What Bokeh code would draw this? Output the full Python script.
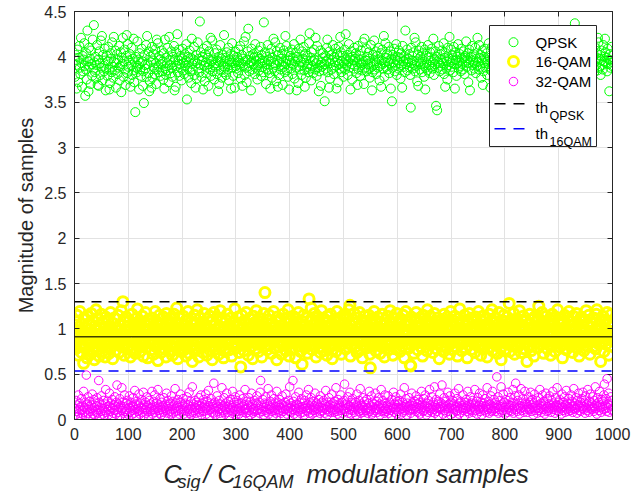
from bokeh.plotting import figure
from bokeh.layouts import column
from bokeh.models import (Range1d, FixedTicker, CustomJSTickFormatter, LinearAxis,
                          Span, ColumnDataSource)
from bokeh.core.properties import value
from bokeh.embed import file_html
from bokeh.resources import INLINE

# ---------------- data ----------------
qpsk = [
3.78,4.02,3.91,3.65,4.08,3.96,3.72,3.99,4.12,3.88,3.81,4.21,3.93,3.67,4.01,3.84,3.97,4.15,3.90,3.57,
3.86,4.04,3.75,4.29,3.95,3.62,4.10,3.89,3.98,3.70,4.07,3.92,3.79,4.19,3.87,4.35,3.94,3.83,4.00,3.76,
3.91,4.13,3.69,3.97,3.68,4.06,3.93,3.80,4.18,3.88,4.23,3.74,4.02,3.90,3.84,4.09,3.96,3.63,3.87,4.01,
3.79,3.95,4.11,3.86,3.64,3.71,4.04,3.98,3.83,4.16,3.89,3.77,4.22,3.94,3.85,4.07,3.66,3.93,4.03,3.81,
3.97,3.88,4.12,3.74,3.90,4.05,3.61,3.99,3.92,4.21,3.78,3.95,4.08,3.86,3.69,4.01,4.24,3.82,4.14,3.89,
3.96,3.75,4.03,3.67,3.91,4.10,3.80,3.98,3.85,4.20,3.72,3.94,3.39,4.00,3.88,3.83,4.17,3.90,3.97,3.64,
4.04,3.86,3.93,3.79,4.09,3.95,3.68,3.84,3.49,4.02,3.91,3.87,4.13,3.78,4.23,3.92,3.82,4.06,3.62,3.73,
4.00,3.94,3.66,4.11,3.77,3.96,4.03,3.88,3.81,4.08,3.93,3.70,4.19,3.86,4.15,3.90,3.83,4.01,3.97,3.79,
3.92,4.07,3.84,3.95,3.75,4.04,3.65,4.19,3.87,3.80,3.99,3.93,4.10,3.85,3.72,4.22,3.91,3.96,3.82,4.06,
3.88,3.78,4.00,3.94,4.12,3.63,3.97,3.67,4.05,3.90,4.25,3.83,3.96,4.08,3.79,3.92,4.01,3.87,3.74,3.98,
4.09,3.85,3.93,3.81,4.03,3.90,3.96,4.14,3.53,3.88,4.00,3.77,3.94,4.07,3.84,3.99,3.71,4.20,3.92,3.86,
3.97,4.11,3.80,3.95,3.66,4.02,3.76,3.93,4.16,3.87,3.98,3.83,4.39,3.91,4.05,3.78,3.96,4.00,3.64,4.09,
3.90,3.73,4.03,3.94,3.82,4.12,3.88,3.99,3.68,4.06,3.92,3.86,4.21,3.79,3.95,4.18,3.84,3.97,3.91,3.75,
4.04,3.89,3.93,4.08,3.81,3.96,3.62,4.00,3.70,3.94,4.13,3.85,3.98,3.77,4.02,3.90,3.83,4.24,3.95,3.88,
3.99,3.80,4.05,3.92,3.86,4.10,3.74,3.97,3.91,4.03,3.65,3.95,4.15,3.88,3.79,4.01,3.93,3.66,4.06,3.90,
3.87,4.00,3.94,3.82,4.08,3.96,3.89,4.12,3.76,3.93,4.02,3.68,3.98,3.91,4.17,3.80,3.95,4.22,3.88,3.72,
3.97,4.06,4.31,3.90,3.84,4.01,3.93,3.63,4.09,3.95,3.86,4.03,3.92,3.99,3.81,4.14,3.88,3.96,4.00,3.75,
3.91,4.07,3.85,3.98,3.93,4.11,3.79,4.02,3.89,3.96,3.83,4.38,3.94,4.05,3.87,3.70,4.00,3.92,4.13,3.86,
3.97,3.82,4.04,3.65,3.95,4.09,3.77,3.99,3.88,4.20,3.93,3.84,4.16,3.91,3.73,4.06,3.96,3.67,4.02,3.80,
3.94,4.10,3.86,3.98,3.91,4.03,3.69,3.95,4.07,3.89,3.83,4.23,3.92,4.12,3.85,3.97,3.78,4.05,3.64,3.96,
4.01,3.87,3.93,4.08,3.81,3.99,3.92,4.14,3.76,3.95,4.04,3.88,3.63,4.00,3.97,3.71,4.09,3.90,3.86,4.19,
3.94,3.80,4.06,3.91,3.98,4.11,3.85,3.67,4.03,3.77,3.96,3.89,4.01,3.92,3.83,4.15,4.26,3.87,3.99,3.74,
4.05,3.90,3.95,3.82,4.08,3.97,3.86,4.21,3.93,3.79,4.12,3.88,3.96,3.62,3.84,3.91,4.07,3.68,3.94,3.89,
3.99,4.04,3.85,3.92,3.51,4.01,3.87,3.95,4.10,4.19,3.83,3.98,3.66,4.06,3.76,3.93,4.02,3.86,3.97,4.13,
3.88,3.81,4.00,3.94,4.09,3.90,3.65,4.03,3.96,3.72,4.11,3.92,3.87,4.22,4.05,3.83,3.95,4.01,3.89,3.78,
3.93,4.08,3.86,4.25,3.97,3.91,4.02,3.80,3.95,4.14,3.88,3.99,3.64,4.06,3.92,3.75,4.00,3.96,3.87,4.10,
3.90,3.98,4.04,3.82,3.94,3.69,4.12,3.86,3.97,4.01,3.79,3.93,4.07,3.91,3.85,4.16,3.95,3.70,4.20,3.88,
3.96,4.09,3.84,4.00,3.92,3.87,4.05,3.98,3.77,3.94,4.13,3.89,3.63,3.83,4.02,3.91,4.18,3.86,3.95,4.06,
3.81,3.93,4.01,3.88,4.10,3.97,3.74,3.90,4.04,3.67,3.96,4.08,3.92,3.87,4.23,3.78,3.94,4.15,3.89,3.99,
4.03,3.86,3.95,4.11,3.82,3.93,4.06,3.65,3.98,3.51,3.88,4.02,3.94,4.09,3.84,3.97,3.91,4.14,3.80,3.96,
4.00,3.87,4.07,3.93,3.99,3.76,4.04,3.91,3.66,4.12,3.95,3.89,4.01,3.83,4.29,3.97,3.92,4.08,3.85,3.94,
3.98,4.03,3.88,3.80,3.44,4.10,3.93,3.96,3.87,4.05,3.91,4.21,3.84,4.16,3.90,3.95,3.73,4.02,3.68,4.07,
3.94,3.86,4.00,3.92,4.11,3.83,3.97,4.04,3.90,3.78,4.08,3.64,3.88,4.01,3.93,3.85,4.13,3.99,3.91,3.82,
4.05,3.96,3.89,4.09,3.87,3.94,4.20,3.80,3.98,3.92,4.06,3.46,4.00,3.41,3.95,3.88,4.12,3.93,3.84,4.03,
3.90,3.97,4.07,3.86,3.93,4.15,3.81,3.99,3.67,4.04,3.87,3.95,3.75,4.10,3.91,3.98,4.22,3.85,3.94,4.08,
3.89,4.02,3.96,3.83,4.11,3.92,3.65,4.05,3.97,3.79,4.00,3.93,4.14,3.87,3.95,4.03,3.90,3.84,4.09,3.98,
3.92,3.86,4.06,3.99,3.81,4.01,3.94,4.17,3.89,3.96,4.04,3.72,3.93,4.08,3.63,3.97,4.00,3.85,4.12,3.91,
3.95,4.03,3.87,3.93,4.10,3.82,3.98,3.90,4.21,3.94,3.86,4.13,3.99,3.89,4.02,3.77,3.96,4.07,3.69,3.84,
4.00,3.93,4.09,3.88,3.97,4.04,3.80,3.95,3.92,4.15,3.87,3.99,3.66,3.85,3.94,4.11,3.90,3.96,3.74,4.06,
3.91,3.98,3.86,4.03,3.94,4.08,3.89,3.97,4.00,3.83,4.12,3.92,3.95,4.05,3.88,3.78,4.23,3.93,4.10,3.64,
3.96,4.04,3.90,3.85,4.07,3.99,3.93,4.14,3.88,3.95,4.01,3.81,3.97,4.09,3.92,3.86,4.03,3.67,4.18,3.89,
3.98,3.84,4.06,3.91,3.96,4.00,3.87,4.11,3.93,3.79,4.04,3.95,3.90,4.08,3.65,3.99,4.02,3.92,3.76,4.13,
3.94,3.88,4.01,3.97,4.09,3.85,3.92,4.05,3.96,3.90,4.16,3.83,3.99,4.03,3.87,3.93,4.10,3.62,3.98,4.00,
3.86,4.07,3.94,3.91,4.02,3.80,3.97,4.12,3.88,3.95,4.04,3.92,3.84,4.09,3.99,3.90,4.24,3.73,3.96,4.06,
3.93,3.87,4.11,3.98,3.92,4.03,3.68,4.00,3.95,4.14,3.89,3.96,4.07,3.82,3.94,4.01,3.90,4.19,3.97,3.86,
4.05,3.91,3.99,3.84,4.08,3.93,3.88,4.02,3.96,3.79,4.10,3.66,4.00,3.87,4.04,3.95,3.90,4.13,3.83,3.98,
3.94,4.06,3.89,4.01,3.97,3.85,4.09,3.92,3.99,4.37,3.86,4.03,3.93,3.96,4.11,3.66,3.98,4.04,3.90,3.95,
4.02,3.88,3.94,4.15,3.91,3.99,3.64,4.07,3.96,3.92,4.00,3.77,4.05,3.93,3.89,4.12,3.97,3.86,4.03,3.91,
3.95,4.08,3.87,3.99,4.01,3.83,3.94,4.10,3.90,3.97,4.04,3.85,4.21,4.16,3.88,3.98,4.02,3.80,3.96,4.07,
3.91,3.86,4.13,3.95,4.00,4.20,4.05,3.93,3.99,3.84,4.09,3.92,3.97,3.62,4.03,3.88,3.96,4.11,3.90,3.94,
]

qam16 = [
0.95,0.78,1.08,0.86,1.15,0.92,0.71,1.02,0.88,1.19,0.81,0.97,0.74,1.05,0.90,0.83,0.62,1.12,0.94,0.79,
1.01,0.87,0.68,1.14,0.93,0.76,1.06,0.89,0.99,0.72,1.17,0.84,0.96,1.09,0.80,0.91,0.66,1.03,0.87,1.21,
0.77,0.98,0.85,1.11,0.93,0.70,1.04,0.82,0.95,1.16,0.89,0.75,1.07,0.92,0.84,1.00,0.69,1.13,0.88,0.96,
0.81,1.10,0.94,0.73,1.02,0.87,1.18,0.79,0.97,0.90,0.67,1.06,0.85,1.12,0.93,0.76,1.01,0.89,0.98,0.83,
1.15,0.91,0.74,1.04,0.86,0.99,1.20,0.80,0.95,1.30,0.88,0.71,1.08,0.93,0.84,1.13,0.97,0.78,1.03,0.90,
0.82,1.09,0.94,0.69,1.00,0.87,1.16,0.92,0.76,1.05,0.89,0.98,0.73,1.11,0.85,0.96,1.22,0.81,0.93,1.02,
0.88,0.75,1.07,0.95,0.83,1.14,0.90,0.70,1.01,0.86,0.97,1.18,0.79,1.04,0.92,0.68,1.10,0.87,0.99,0.84,
1.06,0.93,0.77,1.12,0.89,0.96,0.72,1.03,0.85,1.19,0.91,0.80,1.08,0.94,0.65,1.00,0.88,1.15,0.83,0.97,
0.74,1.05,0.90,0.86,1.13,0.95,0.78,1.01,0.92,0.69,1.17,0.84,0.98,1.09,0.87,0.76,1.04,0.93,0.81,1.11,
0.96,0.71,1.02,0.89,1.16,0.85,0.94,1.07,0.79,1.23,0.90,0.67,1.00,0.88,1.12,0.82,0.97,0.75,1.06,0.91,
0.86,1.14,0.93,0.77,1.03,0.98,0.70,1.10,0.84,0.95,1.19,0.88,0.73,1.01,0.92,0.80,1.08,0.96,0.64,1.05,
0.90,0.83,1.15,0.97,0.76,1.06,0.89,1.21,0.85,0.94,0.69,1.02,0.91,1.12,0.79,0.99,0.87,1.07,0.74,0.93,
1.17,0.82,0.96,1.04,0.88,0.71,1.11,0.92,0.84,1.00,0.77,1.14,0.95,0.86,1.08,0.66,0.98,0.90,1.18,0.81,
0.94,1.05,0.78,0.91,1.13,0.87,0.99,0.72,1.03,0.85,1.20,0.93,0.80,1.09,0.89,0.97,0.68,1.01,0.92,0.75,
1.10,0.86,0.95,1.16,0.83,0.90,1.04,0.77,0.98,0.88,1.12,0.70,1.00,0.94,0.81,1.07,0.91,1.22,0.85,0.96,
0.79,1.02,0.89,1.13,0.93,0.74,1.06,0.87,0.58,0.99,1.15,0.82,0.95,1.01,0.76,1.09,0.90,0.84,1.18,0.92,
0.88,0.97,0.71,1.05,0.86,1.11,0.94,0.80,1.03,0.91,0.67,1.14,0.85,0.98,1.07,0.78,0.93,1.20,0.89,0.83,
1.00,0.75,1.12,0.92,0.87,1.04,0.96,0.69,1.08,0.84,0.99,1.17,0.90,1.40,0.81,1.02,0.94,0.77,1.10,0.88,
0.95,1.15,0.82,0.91,1.06,0.73,0.98,1.01,0.86,1.19,0.92,0.79,1.04,0.89,0.97,0.66,1.13,0.85,0.93,1.08,
0.80,0.96,1.10,0.87,0.72,1.03,0.94,1.16,0.83,0.99,0.90,1.07,0.76,1.12,0.88,0.95,1.21,0.84,0.70,1.01,
0.92,1.09,0.86,0.98,0.78,1.14,0.93,0.85,1.05,0.97,0.68,1.11,0.89,1.02,0.81,1.18,0.94,0.87,1.06,0.75,
0.99,0.90,0.61,1.08,0.84,1.15,0.95,0.79,1.03,0.88,1.12,0.93,0.73,1.00,0.86,1.33,0.97,0.82,1.10,1.23,
0.91,0.77,1.04,0.96,0.87,1.17,0.83,0.94,0.69,1.09,0.99,0.88,1.13,0.80,0.92,1.05,0.74,0.97,1.20,0.85,
1.02,0.89,0.76,1.11,0.93,0.84,1.07,0.98,0.71,1.14,0.90,0.86,1.01,0.79,0.95,1.16,0.88,1.04,0.67,0.94,
0.83,1.10,0.97,0.88,1.03,0.75,0.92,1.19,0.85,0.99,1.08,0.81,0.94,1.12,0.87,0.72,1.05,0.96,0.90,1.15,
0.86,0.98,1.07,0.78,0.93,1.13,0.89,1.01,0.84,1.21,0.96,1.26,0.70,1.04,0.91,0.82,1.10,0.95,0.88,1.17,
0.93,0.80,1.06,0.97,0.74,1.12,0.89,1.00,0.85,1.18,0.92,0.77,1.03,0.96,0.68,1.09,0.87,0.99,1.14,0.83,
0.95,1.08,0.79,0.91,1.02,0.86,1.15,0.94,0.72,0.57,0.88,1.11,0.97,0.81,1.05,0.93,1.19,0.84,0.99,0.76,
1.09,0.90,0.83,1.13,0.96,0.87,1.01,0.73,1.06,0.92,0.80,1.16,0.89,0.98,1.04,0.69,0.94,1.10,0.85,1.00,
0.82,1.14,0.93,0.77,1.03,0.88,1.20,0.96,0.84,1.07,0.91,0.71,1.12,0.99,0.86,1.01,0.78,0.94,1.17,0.89,
0.97,0.85,1.08,0.92,0.75,1.11,0.90,1.02,0.81,0.96,1.15,0.87,0.68,1.05,0.93,1.19,0.83,0.99,1.09,0.88,
0.94,0.79,1.04,0.60,0.59,1.13,0.91,0.86,1.00,0.97,0.73,1.10,0.84,0.95,1.18,0.89,1.02,0.77,0.93,1.07,
0.85,1.12,0.98,0.80,1.05,0.92,0.70,1.15,0.88,0.96,1.01,0.83,1.09,0.94,0.76,1.21,0.90,0.87,1.03,0.97,
1.14,0.82,0.93,1.06,0.89,0.74,1.00,0.95,1.17,0.86,0.91,1.08,0.78,0.99,1.12,0.84,0.96,0.67,1.04,0.92,
0.88,1.10,0.81,0.97,1.02,0.75,1.16,0.90,0.85,1.07,0.94,0.79,1.13,0.98,0.87,1.01,0.72,0.93,1.19,0.84,
1.03,0.91,0.77,1.09,0.95,0.86,1.14,0.80,0.99,0.92,1.06,0.70,1.11,0.88,0.96,1.22,0.83,1.00,0.89,0.76,
0.94,1.07,0.85,0.98,1.15,0.79,0.92,1.03,0.87,0.68,1.10,0.95,0.82,1.17,0.90,1.01,0.77,0.96,1.12,0.86,
1.00,0.89,1.08,0.74,0.97,1.13,0.84,0.93,1.05,0.81,1.19,0.91,0.88,1.02,0.71,1.09,0.95,0.83,1.14,0.90,
0.78,1.04,0.96,0.87,1.11,0.92,0.69,1.06,0.85,0.99,1.16,0.80,0.94,1.01,0.88,1.21,0.76,0.97,1.07,0.84,
0.93,1.12,0.82,1.00,0.90,0.73,1.05,0.95,1.18,0.86,0.98,0.79,0.66,1.09,0.91,1.03,0.85,1.15,0.94,0.77,
1.08,0.89,0.97,1.13,0.83,1.02,0.92,1.28,0.75,1.06,0.96,0.87,1.10,0.81,0.99,1.17,0.90,0.72,1.04,0.94,
0.86,1.11,0.95,0.80,1.07,0.91,1.20,0.84,0.98,0.74,1.03,0.93,0.88,1.14,0.97,0.78,1.01,0.90,1.09,0.85,
0.64,0.96,1.05,0.89,0.82,1.16,0.94,0.99,0.76,1.10,0.87,1.02,0.92,0.70,1.13,0.95,0.84,1.08,0.91,1.00,
0.79,1.12,1.25,0.88,0.97,1.04,0.83,0.93,1.18,0.86,0.99,0.73,1.07,0.90,1.01,0.85,1.14,0.95,0.78,1.06,
0.92,0.87,1.10,0.98,0.71,1.03,0.94,1.16,0.82,0.96,1.09,0.88,0.75,1.13,0.91,1.00,0.84,1.21,0.97,0.89,
1.05,0.80,0.95,1.11,0.86,0.99,0.68,1.07,0.93,0.83,1.15,0.90,1.02,0.77,0.96,1.12,0.88,0.94,1.19,0.85,
0.97,1.08,0.81,0.92,1.04,0.74,1.14,0.89,0.98,0.86,1.01,0.93,1.17,0.79,0.95,1.06,0.87,0.70,1.10,0.91,
0.84,1.13,0.96,0.88,1.03,0.92,0.76,1.09,0.99,0.85,1.20,0.90,0.81,1.05,0.94,1.15,0.87,0.72,1.02,0.97,
0.89,1.07,0.93,0.80,1.12,0.95,0.86,1.00,0.78,1.16,1.21,0.91,0.98,1.04,0.83,0.94,1.09,0.64,0.90,1.01,
0.86,1.14,0.96,0.75,1.05,0.92,1.10,0.83,0.99,1.18,0.88,0.95,0.71,1.07,0.93,1.02,0.81,1.16,0.90,0.97,
]

qam32 = [
.12,.05,.21,.09,.16,.03,.27,.11,.07,.18,.14,.02,.23,.10,.06,.15,.31,.08,.13,.19,
.04,.49,.17,.11,.25,.07,.14,.20,.09,.03,.16,.12,.28,.06,.10,.22,.13,.05,.18,.08,
.15,.24,.11,.07,.43,.19,.02,.13,.09,.26,.16,.06,.12,.21,.10,.04,.17,.33,.08,.14,
.20,.11,.05,.15,.29,.09,.13,.18,.03,.22,.12,.07,.16,.10,.25,.14,.06,.19,.38,.11,
.08,.17,.13,.23,.04,.15,.10,.35,.12,.19,.07,.14,.27,.09,.02,.18,.11,.21,.06,.16,
.13,.26,.08,.12,.19,.05,.15,.10,.24,.14,.07,.32,.11,.17,.03,.20,.12,.09,.16,.28,
.10,.06,.18,.14,.22,.08,.12,.30,.04,.16,.11,.19,.07,.13,.25,.09,.15,.02,.21,.12,
.17,.09,.13,.31,.06,.15,.20,.11,.27,.08,.14,.04,.18,.12,.33,.10,.16,.07,.23,.13,
.05,.19,.11,.15,.08,.24,.13,.03,.17,.10,.29,.14,.07,.21,.12,.16,.09,.18,.06,.26,
.14,.11,.20,.07,.16,.12,.34,.09,.18,.04,.15,.22,.10,.13,.06,.19,.28,.11,.08,.17,
.12,.23,.06,.15,.10,.18,.03,.13,.25,.09,.16,.11,.30,.07,.14,.20,.05,.12,.36,.08,
.17,.10,.14,.21,.07,.13,.19,.02,.16,.11,.24,.08,.15,.12,.27,.05,.18,.10,.14,.22,
.09,.16,.12,.28,.06,.13,.20,.10,.32,.15,.04,.18,.11,.23,.08,.14,.17,.07,.40,.12,
.19,.05,.13,.16,.26,.09,.14,.11,.21,.07,.17,.03,.12,.35,.10,.15,.08,.24,.13,.06,
.18,.11,.29,.14,.08,.20,.12,.04,.16,.22,.10,.15,.07,.31,.13,.09,.19,.11,.25,.05,
.14,.21,.09,.17,.12,.06,.27,.13,.10,.18,.03,.15,.23,.08,.16,.11,.33,.12,.07,.20,
.13,.08,.16,.24,.10,.19,.05,.14,.29,.11,.17,.07,.12,.21,.09,.15,.02,.18,.26,.10,
.16,.12,.19,.07,.30,.43,.11,.15,.09,.22,.13,.05,.18,.10,.25,.14,.08,.17,.12,.34,
.06,.15,.11,.20,.13,.27,.09,.16,.04,.12,.23,.10,.18,.07,.14,.31,.11,.19,.08,.15,
.22,.10,.13,.07,.17,.26,.12,.09,.15,.03,.19,.11,.28,.14,.06,.16,.12,.21,.09,.36,
.13,.18,.08,.15,.11,.43,.20,.06,.14,.10,.25,.12,.17,.04,.16,.09,.30,.13,.19,.07,
.11,.23,.14,.08,.18,.12,.05,.21,.15,.10,.27,.13,.09,.16,.33,.07,.12,.19,.11,.24,
.17,.06,.13,.20,.10,.15,.29,.08,.12,.18,.03,.16,.11,.22,.14,.07,.26,.09,.13,.19,
.10,.15,.21,.12,.07,.17,.32,.11,.14,.05,.19,.09,.24,.13,.16,.08,.12,.28,.10,.18,
.14,.08,.20,.11,.16,.35,.09,.13,.06,.22,.12,.17,.04,.15,.27,.10,.19,.07,.14,.11,
.21,.39,.12,.16,.09,.18,.13,.25,.07,.15,.11,.30,.14,.06,.19,.10,.23,.12,.17,.08,
.13,.19,.05,.16,.28,.11,.14,.09,.21,.12,.34,.07,.17,.10,.15,.24,.08,.13,.20,.03,
.16,.10,.22,.13,.07,.18,.12,.31,.09,.15,.11,.26,.06,.19,.14,.08,.17,.12,.29,.10,
.12,.20,.08,.15,.24,.11,.17,.05,.13,.33,.09,.16,.21,.10,.14,.07,.27,.12,.18,.09,
.15,.11,.26,.07,.13,.19,.10,.16,.04,.22,.14,.12,.30,.08,.17,.11,.25,.13,.06,.20,
.09,.17,.13,.21,.11,.28,.06,.15,.12,.19,.08,.14,.35,.10,.16,.23,.13,.05,.18,.11,
.14,.24,.10,.16,.07,.12,.29,.18,.11,.15,.03,.20,.13,.09,.26,.14,.17,.08,.22,.12,
.19,.06,.15,.11,.31,.13,.17,.09,.23,.10,.16,.27,.12,.05,.18,.14,.08,.21,.13,.33,
.10,.16,.12,.25,.08,.14,.19,.11,.36,.07,.15,.22,.13,.09,.17,.04,.20,.12,.28,.14,
.11,.18,.38,.13,.06,.16,.24,.10,.14,.20,.08,.15,.12,.30,.09,.17,.13,.26,.05,.19,
.15,.12,.21,.07,.17,.11,.29,.14,.09,.16,.23,.10,.13,.34,.06,.18,.12,.20,.08,.15,
.13,.27,.10,.16,.04,.19,.12,.22,.15,.09,.31,.14,.07,.17,.11,.25,.13,.18,.10,.21,
.08,.15,.12,.33,.17,.10,.20,.06,.14,.24,.11,.16,.29,.09,.13,.19,.05,.15,.27,.12,
.18,.10,.23,.14,.08,.16,.35,.11,.13,.20,.07,.17,.12,.26,.09,.15,.31,.10,.14,.22,
.12,.19,.09,.16,.47,.13,.25,.07,.15,.11,.21,.14,.36,.08,.17,.10,.28,.13,.19,.06,
.14,.22,.11,.17,.08,.30,.13,.16,.10,.24,.15,.09,.19,.12,.33,.07,.18,.14,.26,.40,
.11,.16,.09,.21,.13,.27,.06,.15,.12,.34,.10,.18,.14,.23,.08,.16,.31,.11,.19,.13,
.17,.08,.14,.25,.11,.19,.12,.30,.09,.16,.22,.13,.05,.18,.28,.10,.15,.12,.21,.07,
.13,.24,.10,.16,.33,.12,.18,.08,.14,.27,.11,.20,.15,.06,.17,.29,.12,.09,.23,.14,
.10,.17,.26,.12,.15,.08,.21,.13,.31,.11,.18,.14,.07,.24,.16,.10,.35,.13,.19,.09,
.15,.22,.12,.17,.06,.28,.14,.10,.19,.13,.25,.08,.16,.32,.11,.18,.14,.09,.23,.12,
.17,.10,.27,.14,.20,.08,.15,.34,.12,.18,.11,.24,.13,.07,.21,.16,.29,.10,.14,.19,
.09,.16,.23,.12,.30,.14,.11,.19,.07,.26,.13,.17,.10,.33,.15,.08,.20,.12,.28,.14,
.18,.11,.25,.13,.09,.21,.15,.36,.12,.17,.06,.24,.14,.19,.10,.31,.16,.13,.08,.22,
.14,.20,.11,.27,.39,.16,.12,.23,.09,.45,.17,.13,.29,.08,.18,.15,.25,.11,.21,.10,
]

samples = list(range(1, len(qpsk) + 1))

th_qpsk = 1.30       # black dashed threshold
th_16qam = 0.535     # blue dashed threshold
mean_16qam = 0.912   # solid line through the 16-QAM cloud

x_ticks = [0, 100, 200, 300, 400, 500, 600, 700, 800, 900, 1000]
y_ticks = [0, 0.5, 1, 1.5, 2, 2.5, 3, 3.5, 4, 4.5]
series_names = ["QPSK", "16-QAM", "32-QAM"]

# ---------------- layout ----------------
W, H = 644, 491
HMAIN = 452                            # height of the plot part; the x title sits below it
FL, FR, FT, FB = 74, 612, 11, 419     # frame edges in pixels
X0, X1, Y0, Y1 = 0, 1000, 0, 4.5

def dx(px):
    return X0 + (px - FL) / (FR - FL) * (X1 - X0)

def dy(py):
    return Y0 + (FB - py) / (FB - FT) * (Y1 - Y0)

INK = "#262626"
FONT = "Liberation Sans"

p = figure(width=W, height=HMAIN, x_range=Range1d(X0, X1), y_range=Range1d(Y0, Y1),
           output_backend="svg", toolbar_location=None, title=None,
           min_border_left=FL, min_border_right=W - FR,
           min_border_top=FT, min_border_bottom=HMAIN - FB)
p.background_fill_color = "white"
p.border_fill_color = "white"
p.outline_line_color = INK
p.outline_line_width = 1

fmt = CustomJSTickFormatter(code="return tick.toString();")
blank = CustomJSTickFormatter(code="return '';")

xa = p.xaxis[0]
ya = p.yaxis[0]
xa.ticker = FixedTicker(ticks=x_ticks)
ya.ticker = FixedTicker(ticks=y_ticks)
for ax in (xa, ya):
    ax.formatter = fmt
    ax.major_tick_in = 5
    ax.major_tick_out = 0
    ax.minor_tick_in = 0
    ax.minor_tick_out = 0
    ax.axis_line_color = INK
    ax.major_tick_line_color = INK
    ax.major_label_text_font = FONT
    ax.major_label_text_font_size = "16px"
    ax.major_label_text_color = INK
    ax.major_label_standoff = 8

ya.axis_label = "Magnitude of samples"
ya.axis_label_text_font = FONT
ya.axis_label_text_font_size = "20px"
ya.axis_label_text_font_style = "normal"
ya.axis_label_text_color = INK
ya.axis_label_standoff = 4

right_ax = LinearAxis(ticker=FixedTicker(ticks=y_ticks), formatter=blank,
                      major_label_text_font_size="0px", major_label_standoff=0,
                      major_tick_in=5, major_tick_out=0, minor_tick_in=0, minor_tick_out=0,
                      axis_line_color=INK, major_tick_line_color=INK)
top_ax = LinearAxis(ticker=FixedTicker(ticks=x_ticks), formatter=blank,
                    major_label_text_font_size="0px", major_label_standoff=0,
                    major_tick_in=5, major_tick_out=0, minor_tick_in=0, minor_tick_out=0,
                    axis_line_color=INK, major_tick_line_color=INK)
p.add_layout(right_ax, "right")
p.add_layout(top_ax, "above")

p.xgrid.ticker = FixedTicker(ticks=x_ticks)
p.ygrid.ticker = FixedTicker(ticks=y_ticks)
p.grid.grid_line_color = "#e2e2e2"
p.grid.grid_line_width = 1

# ---------------- data glyphs ----------------
src = ColumnDataSource(dict(x=samples, qpsk=qpsk, qam16=qam16, qam32=qam32))
GREEN, YELLOW, MAGENTA = "#00ff00", "#ffff00", "#ff00ff"
p.scatter("x", "qpsk", source=src, marker="circle", size=9, fill_color=None,
          line_color=GREEN, line_width=1)
p.scatter("x", "qam16", source=src, marker="circle", size=10, fill_color=None,
          line_color=YELLOW, line_width=3)
p.scatter("x", "qam32", source=src, marker="circle", size=8.5, fill_color=None,
          line_color=MAGENTA, line_width=1)

DASH = "10 7"
p.add_layout(Span(location=mean_16qam, dimension="width", line_color="black",
                  line_alpha=0.75, line_width=1.5))
p.add_layout(Span(location=th_qpsk, dimension="width", line_color="black",
                  line_width=1.5, line_dash=DASH))
p.add_layout(Span(location=th_16qam, dimension="width", line_color="#0000ff",
                  line_width=1.5, line_dash=DASH))

# ---------------- legend (drawn by hand) ----------------
LB_L, LB_R, LB_T, LB_B = 489, 596, 25, 146
row_py = [41.7, 61.0, 81.0, 103.3, 128.3]
mark_px = 513
dash_px = (494, 525)
text_px = 535
sub_px = 549

p.quad(left=[dx(LB_L)], right=[dx(LB_R)], top=[dy(LB_T)], bottom=[dy(LB_B)],
       fill_color="white", line_color=INK, line_width=1)
p.scatter([dx(mark_px)], [dy(row_py[0])], marker="circle", size=9, fill_color=None,
          line_color=GREEN, line_width=1)
p.scatter([dx(mark_px)], [dy(row_py[1])], marker="circle", size=10, fill_color=None,
          line_color=YELLOW, line_width=3)
p.scatter([dx(mark_px)], [dy(row_py[2])], marker="circle", size=8.5, fill_color=None,
          line_color=MAGENTA, line_width=1)
p.segment(x0=[dx(dash_px[0])] * 2, x1=[dx(dash_px[1])] * 2,
          y0=[dy(row_py[3]), dy(row_py[4])], y1=[dy(row_py[3]), dy(row_py[4])],
          line_color=["black", "#0000ff"], line_width=1.5, line_dash="11 8")
p.text(x=[dx(text_px)] * 3, y=[dy(r) for r in row_py[:3]], text=series_names,
       text_font=value(FONT), text_font_size=value("15px"), text_color="black",
       text_baseline="middle", text_align="left")
p.text(x=[dx(text_px)] * 2, y=[dy(107.0), dy(133.0)], text=["th", "th"],
       text_font=value(FONT), text_font_size=value("15px"), text_color="black",
       text_baseline="alphabetic", text_align="left")
p.text(x=[dx(sub_px)] * 2, y=[dy(115.0), dy(141.0)], text=["QPSK", "16QAM"],
       text_font=value(FONT), text_font_size=value("12.5px"), text_color="black",
       text_baseline="alphabetic", text_align="left")

# ---------------- x-axis title with subscripts (own strip below the plot) ----------------
# the strip's frame is aligned with the plot's frame, so its x data unit is the page pixel
t = figure(width=W, height=H - HMAIN, x_range=Range1d(FL, FR), y_range=Range1d(H, HMAIN),
           output_backend="svg", toolbar_location=None, title=None,
           x_axis_type=None, y_axis_type=None,
           min_border_left=FL, min_border_right=W - FR, min_border_top=0, min_border_bottom=0)
t.grid.visible = False
t.outline_line_color = None
t.background_fill_color = "white"
t.border_fill_color = "white"

MAIN_FS, SUB_FS = "25px", "18px"
main_base, sub_base = 473, 481
title_parts = ["C", "sig", "/", "C", "16QAM", "modulation samples"]
part_px = [163, 177, 203, 217, 232, 306]
part_fs = [MAIN_FS, SUB_FS, MAIN_FS, MAIN_FS, SUB_FS, MAIN_FS]
part_base = [main_base, sub_base, main_base, main_base, sub_base, main_base]
for txt, px, fs, py in zip(title_parts, part_px, part_fs, part_base):
    t.text(x=[px], y=[py], text=[txt], text_font=value(FONT), text_font_size=value(fs),
           text_font_style="italic", text_color=INK,
           text_baseline="alphabetic", text_align="left")

page = column(p, t, spacing=0)
open("out.html", "w").write(file_html(page, INLINE))
